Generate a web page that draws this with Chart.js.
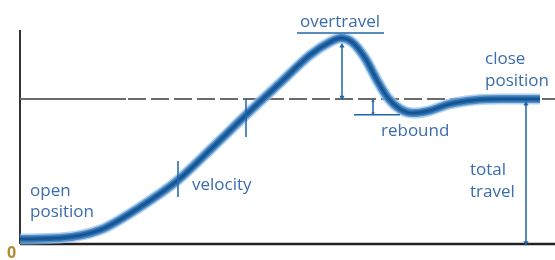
<!DOCTYPE html>
<html>
<head>
<meta charset="utf-8">
<script src="https://cdn.jsdelivr.net/npm/chart.js@4/dist/chart.umd.min.js"></script>
<style>
  html, body { margin: 0; padding: 0; background: #fff; }
  #wrap { width: 555px; height: 260px; }
</style>
</head>
<body>
<div id="wrap"><canvas id="canvas-travel" width="555" height="260"></canvas></div>
<script>
// travel curve (time vs. position), close position = 100
var timeX   = [0, 8, 16, 24, 31.6, 38.4, 45.2, 52, 58, 62, 64.2, 66.4, 69, 71.4, 73.6, 76, 78.6, 81.6, 86, 91, 96, 104];
var travelY = [3.4, 4.1, 9.7, 25.5, 44.1, 66.2, 89, 111, 130.3, 139.3, 142, 139.3, 128.3, 113, 100.7, 93.1, 90.3, 91.7, 96.6, 99.3, 100, 100];
var closeLevel = 100;
var peakTime = 64.4, peakLevel = 136.6;
var reboundTime = 70.6, reboundLevel = 89.7;
var totalTime = 101.2;
var velocityTicks = [[31.6, 57.2, 32.4], [45.2, 100, 73.8]];

var blue = '#1f66a8';
var textBlue = '#3b6cae';

var pts = function(xs, ys) {
    return xs.map(function(x, i) { return {x: x, y: ys[i]}; });
};

var line = function(data, color, width, order, extra) {
    var ds = {
        data: data,
        borderColor: color,
        borderWidth: width,
        pointRadius: 0,
        fill: false,
        order: order
    };
    for (var k in extra) ds[k] = extra[k];
    return ds;
};

var arrow = function(x, y1, y2, r, order) {
    return line([{x: x, y: y1}, {x: x, y: y2}], blue, 1.5, order, {
        pointStyle: 'triangle',
        pointRadius: r,
        pointRotation: [0, 180],
        pointBackgroundColor: blue,
        pointBorderColor: blue,
        pointBorderWidth: 0
    });
};

var curve = pts(timeX, travelY);

var datasets = [
    // annotations
    line([{x: 55.4, y: 145.5}, {x: 72.8, y: 145.5}], blue, 1.5, 0),
    arrow(peakTime, peakLevel, closeLevel + 1.2, 3, 0),
    line([{x: 66.8, y: reboundLevel - 0.6}, {x: 76, y: reboundLevel - 0.6}], blue, 1.5, 0),
    arrow(reboundTime, closeLevel - 1.2, reboundLevel + 0.5, 2, 0),
    arrow(totalTime, closeLevel - 3.4, 0.8, 3, 0),
    line([{x: velocityTicks[0][0], y: velocityTicks[0][1]}, {x: velocityTicks[0][0], y: velocityTicks[0][2]}], blue, 1.5, 0),
    line([{x: velocityTicks[1][0], y: velocityTicks[1][1]}, {x: velocityTicks[1][0], y: velocityTicks[1][2]}], blue, 1.5, 0),
    // the curve, layered to look like a shaded tube
    line(curve, '#175391', 2, 1, {cubicInterpolationMode: 'monotone'}),
    line(curve, '#2466a6', 5, 2, {cubicInterpolationMode: 'monotone'}),
    line(curve, '#4f90cb', 8, 3, {cubicInterpolationMode: 'monotone'}),
    line(curve, 'rgba(150,190,228,0.7)', 11, 4, {cubicInterpolationMode: 'monotone'}),
    // close position reference
    line([{x: 0, y: closeLevel}, {x: 21.2, y: closeLevel}], '#6b6b6b', 1.8, 5),
    line([{x: 21.6, y: closeLevel}, {x: 107, y: closeLevel}], '#6b6b6b', 1.8, 5, {borderDash: [18, 5]}),
    // axes
    line([{x: 0, y: 0}, {x: 0, y: 147.6}], '#333', 2, 6),
    line([{x: 0, y: 0}, {x: 107, y: 0}], '#222', 2.5, 6)
];

var labels = [
    {text: 'overtravel', x: 64, y: 149.7, align: 'center'},
    {text: 'close', x: 93, y: 124.1},
    {text: 'position', x: 93, y: 109},
    {text: 'rebound', x: 72.2, y: 74.5},
    {text: 'velocity', x: 34.4, y: 37.2},
    {text: 'open', x: 2, y: 33.1},
    {text: 'position', x: 2, y: 18.6},
    {text: 'total', x: 90, y: 47.6},
    {text: 'travel', x: 90, y: 32.4},
    {text: '0', x: -2.6, y: -9.7, color: '#b58a2e', font: 'bold 16px "Open Sans"'}
];

var labelPlugin = {
    id: 'labels',
    afterDatasetsDraw: function(chart) {
        var ctx = chart.ctx;
        var xs = chart.scales.x, ys = chart.scales.y;
        ctx.save();
        ctx.textBaseline = 'alphabetic';
        labels.forEach(function(l) {
            ctx.font = l.font || '17px "Open Sans"';
            ctx.fillStyle = l.color || textBlue;
            ctx.textAlign = l.align || 'left';
            ctx.fillText(l.text, xs.getPixelForValue(l.x), ys.getPixelForValue(l.y));
        });
        ctx.restore();
    }
};

window.onload = function() {
    new Chart(document.getElementById('canvas-travel'), {
        type: 'line',
        data: { datasets: datasets },
        options: {
            responsive: false,
            animation: false,
            devicePixelRatio: 1,
            clip: false,
            layout: { autoPadding: false, padding: { left: 20, right: 0, top: 0, bottom: 16 } },
            plugins: { legend: { display: false }, tooltip: { enabled: false } },
            scales: {
                x: { type: 'linear', min: 0, max: 107, display: false },
                y: { type: 'linear', min: 0, max: 168.28, display: false }
            }
        },
        plugins: [labelPlugin]
    });
};
</script>
</body>
</html>
